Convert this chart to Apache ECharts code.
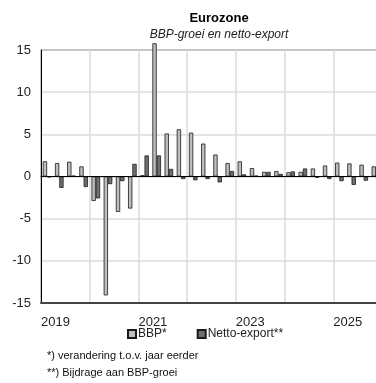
<!DOCTYPE html>
<html>
<head>
<meta charset="utf-8">
<script src="https://cdn.jsdelivr.net/npm/echarts@6/dist/echarts.min.js"></script>
<style>html,body{margin:0;padding:0;background:#fff;}#c{width:376px;height:383px;}</style>
</head>
<body>
<div id="c"></div>
<script>
// Quarters 2019K1 .. 2025K4
const quarters = [
  '2019K1','2019K2','2019K3','2019K4',
  '2020K1','2020K2','2020K3','2020K4',
  '2021K1','2021K2','2021K3','2021K4',
  '2022K1','2022K2','2022K3','2022K4',
  '2023K1','2023K2','2023K3','2023K4',
  '2024K1','2024K2','2024K3','2024K4',
  '2025K1','2025K2','2025K3','2025K4'
];
// BBP* (% change y/y)
const bbp = [1.8,1.6,1.75,1.2, -2.9,-14.1,-4.2,-3.8, 0.15,15.8,5.1,5.6, 5.2,3.9,2.6,1.6, 1.8,1.0,0.55,0.65, 0.5,0.55,0.95,1.3, 1.65,1.55,1.4,1.2];
// Netto-export** (contribution to GDP growth)
const netto = [-0.1,-1.35,0.1,-1.25, -2.6,-0.9,-0.55,1.5, 2.5,2.5,0.9,-0.3, -0.45,-0.3,-0.7,0.65, 0.25,0.1,0.55,0.3, 0.6,0.95,-0.15,-0.3, -0.55,-1.0,-0.5,-0.3];
const yearLabels = ['2019','','2021','','2023','','2025'];
const yTicks = {min: -15, max: 15, interval: 5};

const FONT = '"Liberation Sans", Arial, sans-serif';
const chart = echarts.init(document.getElementById('c'), null, {renderer: 'canvas'});
chart.setOption({
  animation: false,
  backgroundColor: '#fff',
  title: {
    text: 'Eurozone',
    subtext: 'BBP-groei en netto-export',
    left: 214, top: 7, textAlign: 'center', itemGap: 4,
    textStyle: {fontFamily: FONT, fontSize: 13, fontWeight: 'bold', color: '#000'},
    subtextStyle: {fontFamily: FONT, fontSize: 12, fontStyle: 'italic', color: '#222'}
  },
  legend: {
    left: 122, top: 323, itemWidth: 8, itemHeight: 8, itemGap: 30, icon: 'rect',
    textStyle: {fontFamily: FONT, fontSize: 12, color: '#222', padding: [0,0,0,-3]},
    data: ['BBP*', 'Netto-export**']
  },
  grid: {left: 41, top: 50, width: 341, height: 253, show: true, borderColor: '#000', borderWidth: 1,
         containLabel: false, outerBoundsMode: 'none'},
  xAxis: [
    {
      type: 'category', data: quarters, boundaryGap: true,
      axisLine: {show: true, onZero: true, lineStyle: {color: '#000', width: 1}},
      axisTick: {show: false}, axisLabel: {show: false}, splitLine: {show: false}, z: 5
    },
    {
      type: 'value', position: 'bottom', min: 0, max: 28, interval: 4,
      axisLine: {show: true, onZero: false, lineStyle: {color: '#444', width: 2}},
      axisTick: {show: false},
      splitLine: {show: true, lineStyle: {color: '#dcdcdc', width: 1.5}},
      axisLabel: {
        show: true, align: 'left', margin: 13, fontFamily: FONT, fontSize: 13, color: '#222',
        formatter: function (v) { return yearLabels[Math.round(v / 4)] || ''; }
      }
    }
  ],
  yAxis: {
    type: 'value', min: yTicks.min, max: yTicks.max, interval: yTicks.interval,
    axisLine: {show: true, lineStyle: {color: '#000', width: 1}},
    axisTick: {show: false},
    splitLine: {show: true, lineStyle: {color: '#dcdcdc', width: 1.5}},
    axisLabel: {margin: 10, fontFamily: FONT, fontSize: 13, color: '#222'}
  },
  series: [
    {
      name: 'BBP*', type: 'bar', xAxisIndex: 0, data: bbp, barWidth: 4.3, barGap: '0%', clip: false,
      itemStyle: {color: '#bdbdbd', borderColor: '#1a1a1a', borderWidth: 0.8}
    },
    {
      name: 'Netto-export**', type: 'bar', xAxisIndex: 0, data: netto, barWidth: 4.3, barGap: '0%',
      itemStyle: {color: '#6f6f6f', borderColor: '#1a1a1a', borderWidth: 0.8}
    }
  ],
  graphic: [
    {type: 'text', left: 47, top: 350, style: {text: '*) verandering t.o.v. jaar eerder', fontFamily: FONT, fontSize: 11, fill: '#111'}},
    {type: 'text', left: 47, top: 367, style: {text: '**) Bijdrage aan BBP-groei', fontFamily: FONT, fontSize: 11, fill: '#111'}}
  ]
});
</script>
</body>
</html>
